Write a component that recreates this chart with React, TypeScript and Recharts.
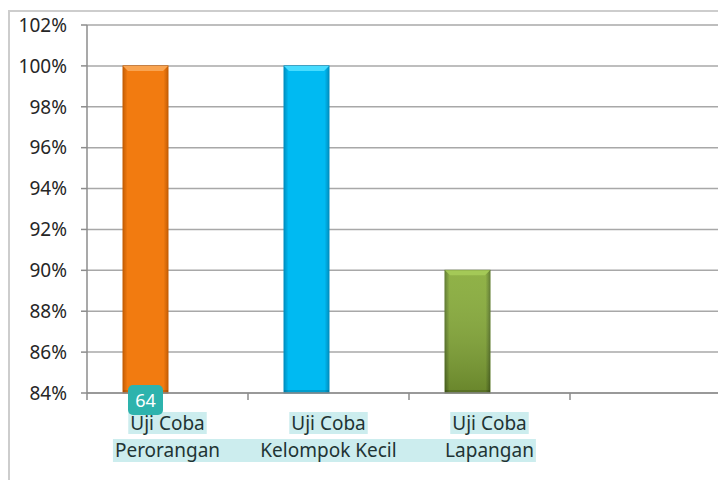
import React from "react"
import { BarChart, Bar, XAxis, YAxis, CartesianGrid } from "recharts"

// category labels (two lines each), last slot is an empty category
const LABEL_LINE1 = ["Uji Coba", "Uji Coba", "Uji Coba", ""]
const LABEL_LINE2 = ["Perorangan", "Kelompok Kecil", "Lapangan", ""]
// percentages
const SERIES_VALUES = [100, 100, 90, null]
// second (empty) series of the original clustered chart
const EMPTY_SERIES = [null, null, null, null]
const Y_TICKS = [84, 86, 88, 90, 92, 94, 96, 98, 100, 102]
const PAGE_BADGE = "64"

const COLORS = [
  { base: "#f27b10", dark: "#c65f05", light: "#f9a451" }, // orange
  { base: "#00baf2", dark: "#0090c2", light: "#47dcff" }, // blue
  { base: "#86ab37", dark: "#5b7826", light: "#a4c957" }, // green
]

const CHART_W = 740
const CHART_H = 480
const MARGIN = { top: 25, right: 8, left: 0, bottom: 0 }
const Y_AXIS_W = 88
const X_AXIS_H = 87
const BAND = (CHART_W - MARGIN.left - MARGIN.right - Y_AXIS_W) / LABEL_LINE1.length
const FONT = "19px 'Noto Sans'"
const HIGHLIGHT = "#ccedee"

const data = LABEL_LINE1.map((l1, i) => ({
  name: (l1 + " " + LABEL_LINE2[i]).trim() || "-",
  value: SERIES_VALUES[i],
  empty: EMPTY_SERIES[i],
}))

let ctx: CanvasRenderingContext2D | null = null
function textWidth(s: string) {
  if (!ctx) ctx = document.createElement("canvas").getContext("2d")
  if (!ctx) return s.length * 10
  ctx.font = FONT
  return ctx.measureText(s).width
}

function CategoryTick(props: any) {
  const { x, y, index } = props
  const l1 = LABEL_LINE1[index]
  const l2 = LABEL_LINE2[index]
  const half = BAND / 2
  const last = LABEL_LINE1.filter((s) => s).length - 1
  const w1 = l1 ? textWidth(l1) + 4 : 0
  const w2 = l2 ? textWidth(l2) + 4 : 0
  let r2Left = x - half
  let r2Right = x + half
  if (index === 0) r2Left = x - w2 / 2
  if (index === last) r2Right = x + w2 / 2
  return (
    <g>
      <line x1={x - half} x2={x - half} y1={y} y2={y + 7} stroke="#8c8c8c" strokeWidth={1.5} />
      {l1 && (
        <>
          <rect x={x - w1 / 2} y={y + 19} width={w1} height={22} fill={HIGHLIGHT} />
          <rect x={r2Left} y={y + 46} width={r2Right - r2Left} height={23} fill={HIGHLIGHT} />
          <text x={x} y={y + 37} textAnchor="middle" fontSize={19} fill="#1f3434" fontFamily="Noto Sans">
            {l1}
          </text>
          <text x={x} y={y + 64} textAnchor="middle" fontSize={19} fill="#1f3434" fontFamily="Noto Sans">
            {l2}
          </text>
        </>
      )}
    </g>
  )
}

function BevelBar(props: any) {
  const { x, y, width, height, index } = props
  if (!height || height <= 0) return null
  const c = COLORS[index % COLORS.length]
  const id = "bar-grad-" + index
  const b = 5
  return (
    <g>
      <defs>
        <linearGradient id={id} x1="0" y1="0" x2="1" y2="0">
          <stop offset="0%" stopColor={c.dark} />
          <stop offset="10%" stopColor={c.base} />
          <stop offset="90%" stopColor={c.base} />
          <stop offset="100%" stopColor={c.dark} />
        </linearGradient>
        <linearGradient id={id + "-v"} x1="0" y1="0" x2="0" y2="1">
          <stop offset="0%" stopColor="#ffffff" stopOpacity={index === 2 ? 0.08 : 0} />
          <stop offset="100%" stopColor="#000000" stopOpacity={index === 2 ? 0.22 : 0} />
        </linearGradient>
      </defs>
      <rect x={x} y={y} width={width} height={height} fill={`url(#${id})`} stroke={c.dark} strokeWidth={1} />
      <rect x={x} y={y} width={width} height={height} fill={`url(#${id}-v)`} />
      <polygon
        points={`${x},${y} ${x + width},${y} ${x + width - b},${y + b} ${x + b},${y + b}`}
        fill={c.light}
      />
      <rect x={x} y={y + height - 3} width={width} height={3} fill="#000" opacity={0.15} />
    </g>
  )
}

export default function App() {
  return (
    <div
      style={{
        position: "absolute",
        left: 0,
        top: 0,
        width: 718,
        height: 480,
        overflow: "hidden",
        background: "#fff",
      }}
    >
      <div
        style={{
          position: "absolute",
          left: 8,
          top: 10,
          width: 760,
          height: 500,
          borderLeft: "2px solid #cdcdcd",
          borderTop: "2px solid #cdcdcd",
        }}
      />
      <div style={{ position: "absolute", left: -1, top: 0 }}>
        <BarChart
          width={CHART_W}
          height={CHART_H}
          data={data}
          margin={MARGIN}
          barSize={45}
          barGap={0}
        >
          <CartesianGrid vertical={false} stroke="#a8a8a8" strokeWidth={1.5} />
          <XAxis
            dataKey="name"
            interval={0}
            height={X_AXIS_H}
            tickSize={0}
            tickMargin={0}
            tickLine={false}
            axisLine={{ stroke: "#8c8c8c", strokeWidth: 1.5 }}
            tick={<CategoryTick />}
          />
          <YAxis
            width={Y_AXIS_W}
            domain={[84, 102]}
            ticks={Y_TICKS}
            interval={0}
            tickFormatter={(v: number) => `${v}%`}
            tickSize={6}
            tickMargin={14}
            axisLine={{ stroke: "#8c8c8c", strokeWidth: 1.5 }}
            tickLine={{ stroke: "#8c8c8c", strokeWidth: 1.5 }}
            tick={{ fontSize: 19, fill: "#262626", fontFamily: "Noto Sans" }}
          />
          <Bar dataKey="value" shape={<BevelBar />} isAnimationActive={false} />
          <Bar dataKey="empty" fill="#c0504d" isAnimationActive={false} />
        </BarChart>
      </div>
      <div
        style={{
          position: "absolute",
          left: 128,
          top: 385,
          width: 35,
          height: 30,
          borderRadius: 5,
          background: "#2db3ad",
          color: "#fff",
          fontFamily: "Noto Sans",
          fontSize: 18,
          lineHeight: "30px",
          textAlign: "center",
        }}
      >
        {PAGE_BADGE}
      </div>
    </div>
  )
}
